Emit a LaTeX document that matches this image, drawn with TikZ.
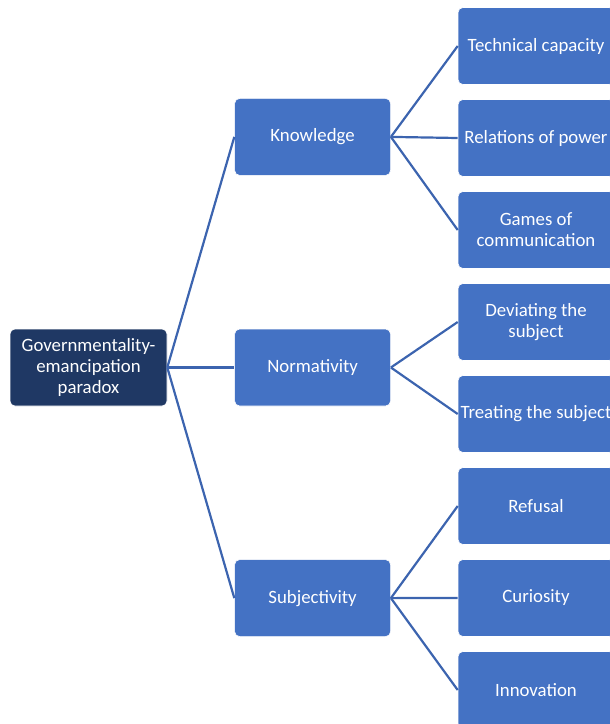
\documentclass[tikz,border=0pt]{standalone}
\usepackage{fontspec}
\setmainfont{Carlito}
\usepackage{xcolor}
\usetikzlibrary{positioning}
\definecolor{navy}{HTML}{1F3864}
\definecolor{accent}{HTML}{4472C4}
\definecolor{linkblue}{RGB}{60,100,175}
\begin{document}
\begin{tikzpicture}[x=1pt, y=-1pt,
    box/.style={rounded corners=5pt, draw=white, line width=0.6pt, fill=accent, text=white,
      minimum width=156pt, minimum height=77pt, inner xsep=0pt, align=center,
      font=\fontsize{18.8}{21}\selectfont},
    rootbox/.style={box, fill=navy, minimum width=157pt},
    link/.style={linkblue, line width=2.2pt}]
        \clip (0,0) rectangle (610,724);

        % root and first level
        \node[rootbox] (g) at (88.5,367.5) {Governmentality-\\emancipation\\paradox};
        \node[box, right=67pt of g] (n) {Normativity};
        \node[box, above=153pt of n] (k) {Knowledge};
        \node[box, below=153pt of n] (s) {Subjectivity};

        % second level
        \foreach \t [count=\i, evaluate = \i as \y using 46+92*(\i-1)] in
          {Technical capacity, Relations of power, {Games of\\communication},
           {Deviating the\\subject}, Treating the subject, Refusal, Curiosity, Innovation}
        \node[box] (c\i) at (536,\y) {\t};

        \foreach \p in {k, n, s}
        \draw[link] (g.east) -- (\p.west);

        \foreach \p/\c in {k/1, k/2, k/3, n/4, n/5, s/6, s/7, s/8}
        \draw[link] (\p.east) -- (c\c.west);
      \end{tikzpicture}
\end{document}
